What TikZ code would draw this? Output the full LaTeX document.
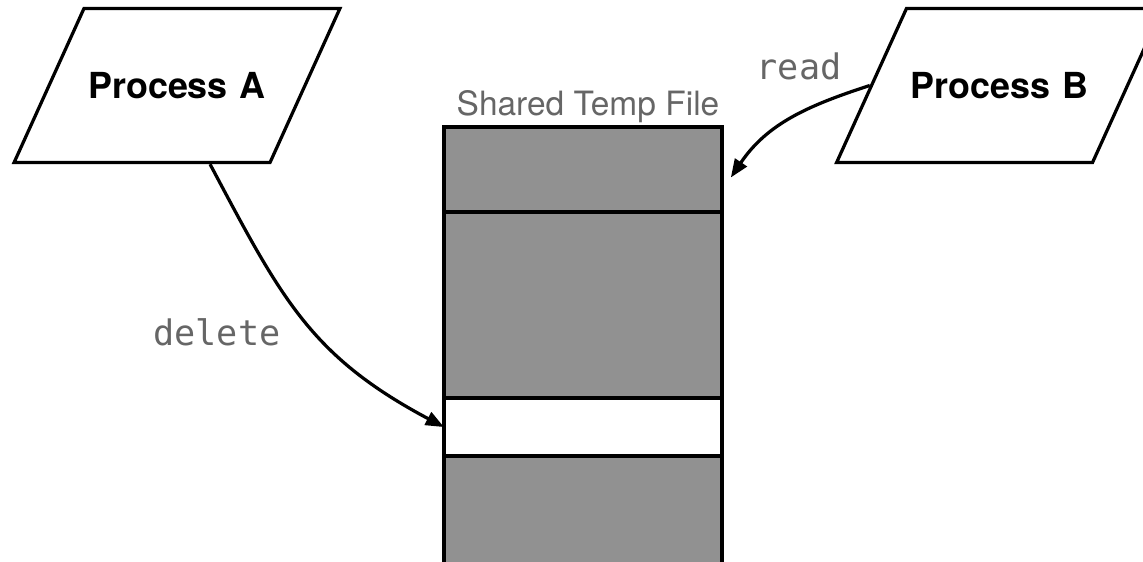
\documentclass[tikz,border=0pt]{standalone}
\usepackage{fontspec}
\usepackage{tikz}
\usetikzlibrary{arrows.meta, positioning, shapes.geometric}
\setmainfont{TeX Gyre Heros}
\setmonofont{DejaVu Sans Mono}

\definecolor{filegray}{HTML}{919191}
\definecolor{labelgray}{HTML}{666666}

\tikzset{
  proc/.style={draw, line width=2.3pt, trapezium, trapezium left angle=65.6,
    trapezium right angle=114.4, text width=4.6cm, align=center,
    text height=0.65cm, text depth=0cm, inner xsep=0.025cm, inner ysep=1.6cm,
    font=\fontsize{25.5}{30}\selectfont\bfseries},
  block/.style={draw, line width=2.3pt, fill=filegray, minimum width=6.95cm,
    inner sep=0pt, outer sep=0pt},
  access/.style={line width=2.3pt, -{Triangle[length=13pt,width=10pt]}},
  op/.style={font=\fontsize{25}{30}\selectfont\ttfamily, text=labelgray, anchor=base},
  title/.style={font=\fontsize{23.8}{28}\selectfont, text=labelgray, anchor=base}
}

\begin{document}
\begin{tikzpicture}[x=0.025cm, y=0.025cm]
\useasboundingbox (0,0) rectangle (1143,561);

% the two processes
\node[proc] (procA) at (177,475.5) {Process A};
\node[proc] (procB) at (999.5,475.5) {Process B};

% shared temp file, one block per region
\node[block, minimum height=2.125cm] (blk1) at (583,391.5) {};
\node[block, minimum height=4.65cm, below=0pt of blk1] (blk2) {};
\node[block, minimum height=1.45cm, fill=white, below=0pt of blk2] (blk3) {};
\node[block, minimum height=3.25cm, below=0pt of blk3] (blk4) {};
\node[title] (fileTitle) at (588,445) {Shared Temp File};

% operations
\draw[access] ([xshift=0.825cm]procA.south) to[out=-62, in=152, looseness=1.1] (blk3.west);
\draw[access] (procB.west) to[out=198, in=56] ([shift={(0.22cm,-0.2cm)}]blk1.east);

\node[op] (delLabel) at (217,216) {delete};
\node[op] (readLabel) at (799,481) {read};
\end{tikzpicture}
\end{document}
